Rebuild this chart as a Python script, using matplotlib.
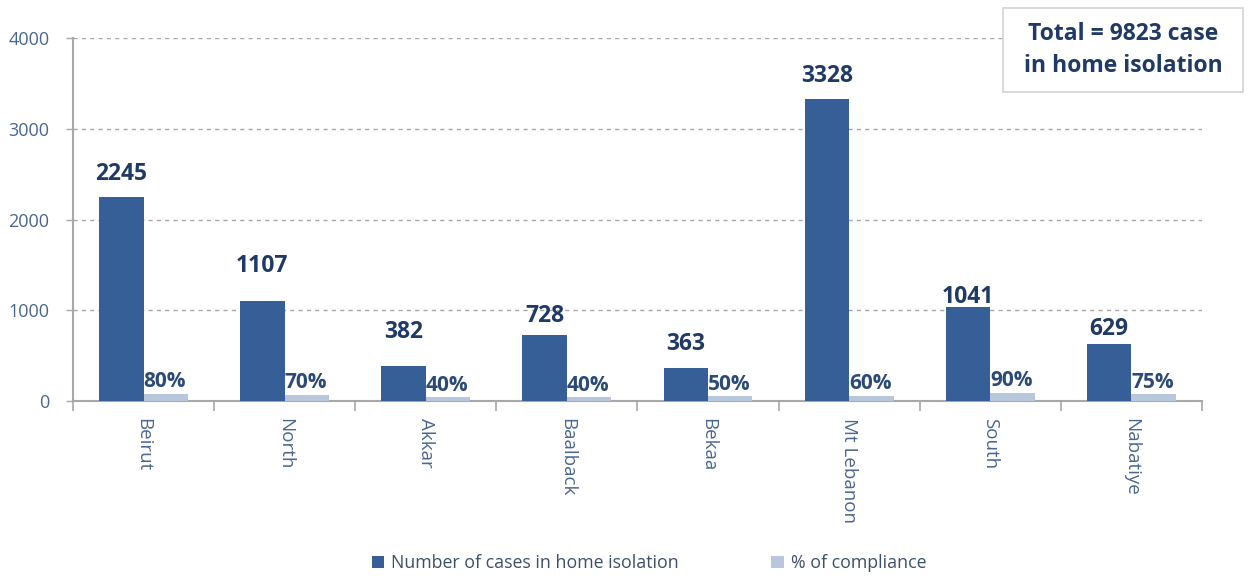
import matplotlib.pyplot as plt
import numpy as np
from matplotlib.patches import Rectangle
from matplotlib.ticker import FixedLocator

plt.rcParams["font.family"] = ["Open Sans", "DejaVu Sans"]

# --- Data ---
regions = ["Beirut", "North", "Akkar", "Baalback", "Bekaa", "Mt Lebanon", "South", "Nabatiye"]
cases = [2245, 1107, 382, 728, 363, 3328, 1041, 629]
compliance = [80, 70, 40, 40, 50, 60, 90, 75]
total_text = "Total = 9823 case\nin home isolation"

# --- Style ---
dark = "#355f96"
light = "#b8c7dc"
label_col = "#1f3a66"
tick_col = "#4a6690"
grid_col = "#a8a8a8"
label_pad = [6, 14, 14, 3, 7, 6, -4, 0]  # extra lift of the case labels [pt]

fig = plt.figure(figsize=(12.48, 5.79), dpi=100)
ax = fig.add_axes([0.0585, 0.3074, 0.9045, 0.6269])

x = np.arange(len(regions))
w = 0.315
ax.bar(x - w / 2, cases, w, color=dark, label="Number of cases in home isolation", zorder=3)
ax.bar(x + w / 2, compliance, w, color=light, label="% of compliance", zorder=3)

for i in range(len(regions)):
    ax.annotate(str(cases[i]), (x[i] - w / 2, cases[i]), xytext=(0, 2 + label_pad[i]),
                textcoords="offset points", ha="center", va="bottom",
                fontsize=16.5, fontweight="bold", color=label_col)
    ax.annotate(f"{compliance[i]}%", (x[i], compliance[i]), xytext=(0, 1),
                textcoords="offset points", ha="left", va="bottom",
                fontsize=15, fontweight="bold", color="#2b4a78")

ax.set_xlim(-0.5, len(regions) - 0.5)
ax.set_ylim(0, 4000)
ax.set_yticks([0, 1000, 2000, 3000, 4000])
ax.yaxis.grid(True, linestyle=(0, (3, 3)), color=grid_col, linewidth=1, zorder=0)
ax.tick_params(axis="y", labelsize=13, labelcolor=tick_col, color=grid_col, length=5, width=1, pad=12)

ax.set_xticks(x)
ax.set_xticklabels(regions, rotation=270, fontsize=13.5, color=tick_col)
ax.xaxis.set_minor_locator(FixedLocator(np.arange(-0.5, len(regions), 1.0)))
ax.tick_params(axis="x", which="major", length=0, pad=12)
ax.tick_params(axis="x", which="minor", length=7, color=grid_col, width=1.2)

for s in ["top", "right"]:
    ax.spines[s].set_visible(False)
for s in ["left", "bottom"]:
    ax.spines[s].set_color(grid_col)
    ax.spines[s].set_linewidth(1.5)

fig.legend(loc="center", bbox_to_anchor=(0.52, 0.027), ncol=2, frameon=False,
           fontsize=12.8, handlelength=0.7, handleheight=0.7, columnspacing=5.2,
           handletextpad=0.4, labelcolor="#3d4f6a")

# total box
fig.patches.append(Rectangle((1003 / 1248, 1 - 92 / 579), 240 / 1248, 84 / 579,
                             transform=fig.transFigure, facecolor="white",
                             edgecolor="#cfd4da", linewidth=1.2, zorder=5))
fig.text(1123 / 1248, 1 - 50 / 579, total_text, ha="center", va="center", fontsize=16.5,
         fontweight="bold", color=label_col, linespacing=1.45, zorder=6)

fig.savefig("out.png", dpi=100)
